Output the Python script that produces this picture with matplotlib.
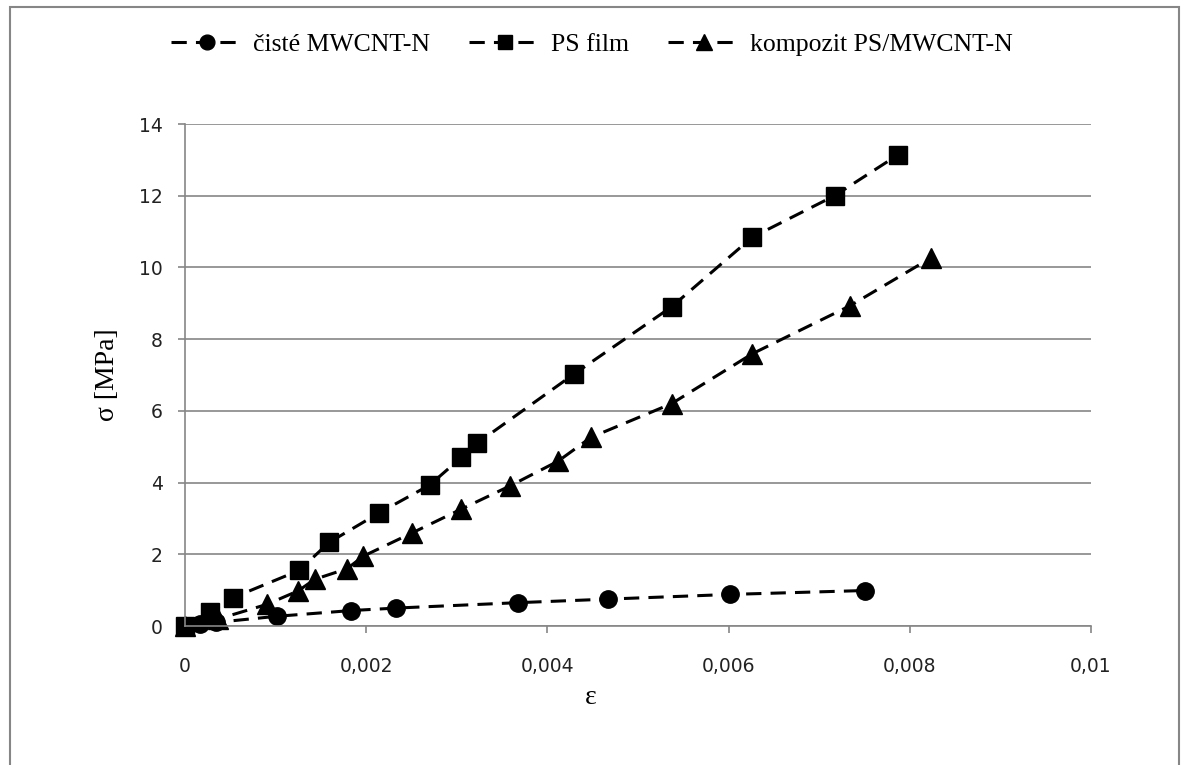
import matplotlib.pyplot as plt
from matplotlib.patches import Rectangle
from matplotlib.ticker import FuncFormatter

# strain / stress readings
cnt_x = [0, 0.00017, 0.00034, 0.00101, 0.00183, 0.00233, 0.00367, 0.00467, 0.00601, 0.00751]
cnt_y = [0, 0.06, 0.10, 0.27, 0.43, 0.50, 0.65, 0.75, 0.88, 0.99]

ps_x = [0, 0.00028, 0.00053, 0.00126, 0.00159, 0.00214, 0.0027, 0.00305, 0.00322,
        0.00429, 0.00537, 0.00626, 0.00717, 0.00787]
ps_y = [0, 0.40, 0.79, 1.55, 2.33, 3.15, 3.93, 4.70, 5.09, 7.02, 8.90, 10.84, 12.0, 13.14]

komp_x = [0, 0.00036, 0.0009, 0.00125, 0.00143, 0.00179, 0.00197, 0.00251, 0.00305,
          0.00359, 0.00412, 0.00448, 0.00537, 0.00626, 0.00734, 0.00823]
komp_y = [0, 0.19, 0.6, 0.98, 1.30, 1.60, 1.95, 2.60, 3.26, 3.91, 4.60, 5.26, 6.20,
          7.59, 8.93, 10.26]

labels = ['čisté MWCNT-N', 'PS film', 'kompozit PS/MWCNT-N']
x_ticks = [0, 0.002, 0.004, 0.006, 0.008, 0.01]
y_ticks = [0, 2, 4, 6, 8, 10, 12, 14]

fig = plt.figure(figsize=(11.85, 7.65), dpi=100)
ax = fig.add_axes([185/1185, 1-626/765, (1091-185)/1185, (626-124)/765])

grey = '#868686'
dash = (5, 3)
ax.plot(cnt_x, cnt_y, color='black', lw=2.2, dashes=dash, marker='o', ms=12.5, label=labels[0])
ax.plot(ps_x, ps_y, color='black', lw=2.2, dashes=dash, marker='s', ms=12.5, label=labels[1])
ax.plot(komp_x, komp_y, color='black', lw=2.2, dashes=dash, marker='^', ms=14, label=labels[2])

ax.set_xlim(0, 0.01)
ax.set_ylim(0, 14)
ax.set_xticks(x_ticks)
ax.set_yticks(y_ticks)
ax.xaxis.set_major_formatter(FuncFormatter(lambda v, p: ('%g' % v).replace('.', ',')))
ax.grid(axis='y', color=grey, lw=1.2)
ax.set_axisbelow(True)
for s in ['top', 'right']:
    ax.spines[s].set_visible(False)
for s in ['left', 'bottom']:
    ax.spines[s].set_color(grey)
    ax.spines[s].set_linewidth(1.2)
ax.tick_params(axis='x', length=5, width=1.2, color=grey, pad=17, labelsize=13.5, labelcolor='#222222')
ax.tick_params(axis='y', length=5, width=1.2, color=grey, pad=11, labelsize=13.5, labelcolor='#222222')
for c in ax.lines:
    c.set_clip_on(False)

fig.text(591/1185, 1-698/765, 'ε', family='Liberation Serif', fontsize=20, ha='center', va='center')
fig.text(107/1185, 1-375/765, 'σ [MPa]', family='Liberation Serif', fontsize=20,
         rotation=90, ha='center', va='center')

fig.legend(loc='center', bbox_to_anchor=(592/1185, 1-45/765), ncol=3, frameon=False,
           prop={'family': 'Liberation Serif', 'size': 18.5}, handlelength=2.8,
           handletextpad=0.4, columnspacing=1.5, markerscale=0.85)

fig.patches.append(Rectangle((10/1185, -0.2), (1179-10)/1185, 1.2-7/765, transform=fig.transFigure,
                             fill=False, edgecolor=grey, lw=1.5))

fig.savefig('out.png', dpi=100)
